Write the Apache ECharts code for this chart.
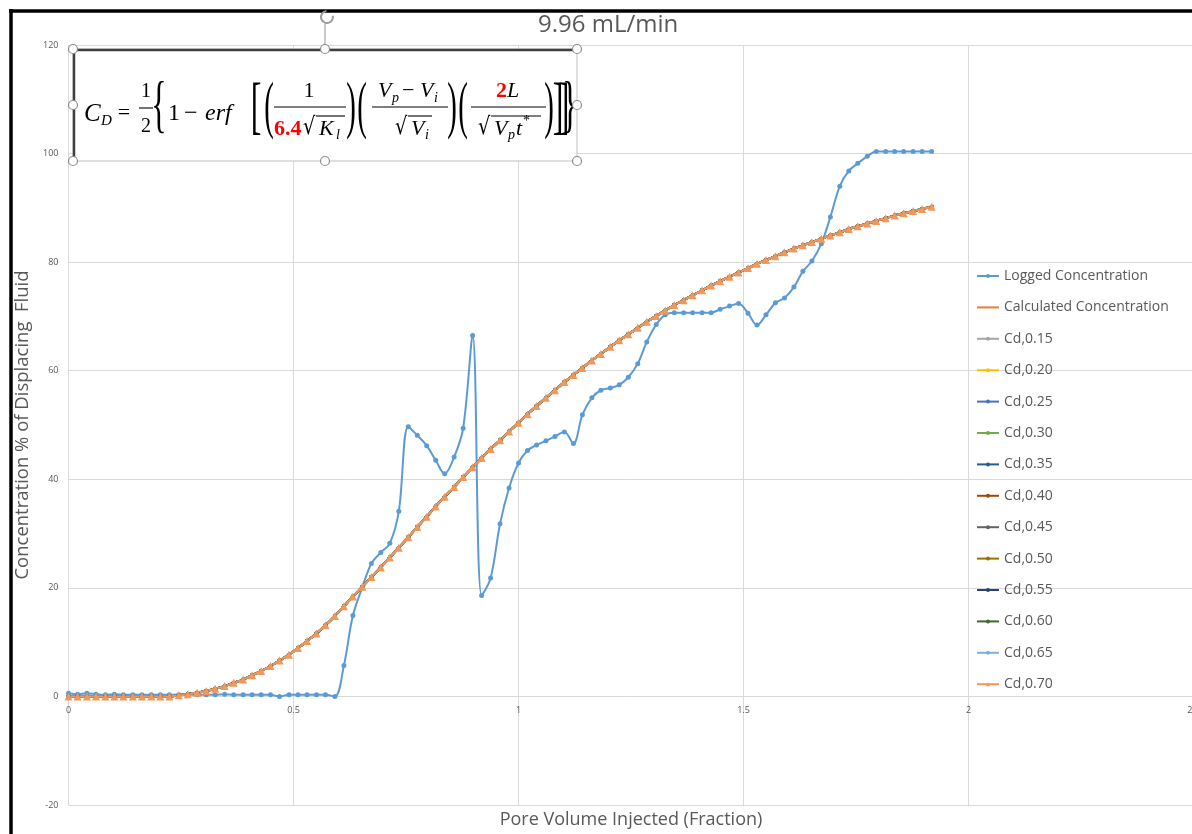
<!DOCTYPE html>
<html>
<head>
<meta charset="utf-8">
<script src="https://cdn.jsdelivr.net/npm/echarts@6/dist/echarts.min.js"></script>
<style>
html,body{margin:0;padding:0;background:#fff;}
#chart{width:1192px;height:834px;}
</style>
</head>
<body>
<div id="chart"></div>
<script>
// ---------------- DATA ----------------
const chartTitle = '9.96 mL/min';
const xAxisTitle = 'Pore Volume Injected (Fraction)';
const yAxisTitle = 'Concentration % of Displacing  Fluid';
const xTickValues = [0, 0.5, 1, 1.5, 2, 2.5];
const yTickValues = [-20, 0, 20, 40, 60, 80, 100, 120];

const pvInjected = [0.000,0.020,0.041,0.061,0.082,0.102,0.122,0.143,0.163,0.184,
  0.204,0.224,0.245,0.265,0.286,0.306,0.326,0.347,0.367,0.388,
  0.408,0.428,0.449,0.469,0.490,0.510,0.530,0.551,0.571,0.592,
  0.612,0.632,0.653,0.673,0.694,0.714,0.734,0.755,0.775,0.796,
  0.816,0.836,0.857,0.877,0.898,0.918,0.938,0.959,0.979,1.000,
  1.020,1.040,1.061,1.081,1.102,1.122,1.142,1.163,1.183,1.204,
  1.224,1.244,1.265,1.285,1.306,1.326,1.346,1.367,1.387,1.408,
  1.428,1.448,1.469,1.489,1.510,1.530,1.550,1.571,1.591,1.612,
  1.632,1.652,1.673,1.693,1.714,1.734,1.754,1.775,1.795,1.816,
  1.836,1.856,1.877,1.897,1.918];

const loggedConc = [0.6,0.4,0.6,0.4,0.3,0.4,0.3,0.3,0.3,0.3,
  0.3,0.3,0.3,0.3,0.3,0.3,0.3,0.4,0.3,0.3,
  0.3,0.3,0.3,0.0,0.3,0.3,0.3,0.3,0.3,0.0,
  5.7,14.9,20.1,24.5,26.5,28.2,34.1,49.7,48.1,46.2,
  43.5,41.0,44.1,49.4,66.5,18.6,21.8,31.8,38.4,43.0,
  45.3,46.3,47.1,47.9,48.7,46.6,51.9,55.0,56.4,56.8,
  57.4,58.8,61.3,65.3,68.5,70.3,70.7,70.7,70.7,70.7,
  70.7,71.3,71.9,72.4,70.6,68.4,70.3,72.5,73.4,75.4,
  78.3,80.2,83.4,88.3,94.0,96.8,98.2,99.5,100.4,100.4,
  100.4,100.4,100.4,100.4,100.4];

const calcConc = [0,0,0,0,0,0,0,0,0,0,
  0,0,0.2,0.4,0.7,1.0,1.4,1.9,2.5,3.1,
  3.9,4.7,5.6,6.6,7.7,8.9,10.2,11.6,13.1,14.8,
  16.6,18.4,20.2,22.0,23.8,25.6,27.4,29.3,31.2,33.1,
  35.0,36.8,38.6,40.4,42.2,43.9,45.6,47.2,48.8,50.4,
  52.0,53.5,55.0,56.4,57.9,59.2,60.5,61.9,63.1,64.4,
  65.6,66.7,67.9,69.0,70.1,71.1,72.1,73.0,73.9,74.8,
  75.7,76.5,77.3,78.1,78.9,79.7,80.4,81.1,81.8,82.5,
  83.1,83.7,84.3,84.9,85.5,86.1,86.6,87.1,87.6,88.1,
  88.6,89.0,89.4,89.8,90.2];

// Cd curves coincide with the calculated curve in the picture
const cdNames = ['Cd,0.15','Cd,0.20','Cd,0.25','Cd,0.30','Cd,0.35','Cd,0.40',
  'Cd,0.45','Cd,0.50','Cd,0.55','Cd,0.60','Cd,0.65','Cd,0.70'];
const cdConc = calcConc;

// ---------------- STYLE ----------------
const cdColors = ['#A5A5A5','#FFC000','#4472C4','#70AD47','#255E91','#9E480E',
  '#636363','#997300','#264478','#43682B','#7CAFDD','#F1975A'];
const txt = '#595959';
const gridCol = '#D9D9D9';
const uiFont = 'Open Sans';

const pairs = (ys) => pvInjected.map((x, i) => [x, ys[i]]);

const series = [
  {
    name: 'Logged Concentration', type: 'line', data: pairs(loggedConc),
    smooth: 0.35, symbol: 'circle', symbolSize: 5,
    lineStyle: {width: 2, color: '#5B9BD5'}, itemStyle: {color: '#5B9BD5'}
  },
  {
    name: 'Calculated Concentration', type: 'line', data: pairs(calcConc),
    smooth: 0.3, symbol: 'none',
    lineStyle: {width: 2.5, color: '#ED7D31'}, itemStyle: {color: '#ED7D31'}
  }
];
cdNames.forEach((n, k) => {
  const last = k === cdNames.length - 1;
  series.push({
    name: n, type: 'line', data: pairs(cdConc), smooth: 0.3,
    symbol: last ? 'triangle' : 'circle', symbolSize: last ? 8 : 4,
    lineStyle: {width: 2, color: cdColors[k]}, itemStyle: {color: cdColors[k]}
  });
});

// ---------------- EQUATION BOX (graphic) ----------------
const G = [];
const SERIF = 'Liberation Serif';
function T(x, y, text, o) {
  o = o || {};
  G.push({
    type: 'text', x: x, y: y, z: 110, scaleX: o.sx || 1, scaleY: o.sy || 1,
    style: {
      text: text, fill: o.fill || '#000',
      fontSize: o.size || 22, fontFamily: o.family || SERIF,
      fontStyle: o.italic ? 'italic' : 'normal', fontWeight: o.bold ? 'bold' : 'normal',
      align: o.align || 'left', verticalAlign: 'middle',
      textAlign: o.align || 'left', textVerticalAlign: 'middle'
    }
  });
}
function L(x1, y1, x2, y2, w, c) {
  G.push({type: 'line', z: 110, shape: {x1, y1, x2, y2}, style: {stroke: c || '#000', lineWidth: w || 1.2}});
}
// outer frame
L(9, 11, 1192, 11, 3.5, '#000');
L(11, 9, 11, 834, 3.5, '#000');
// text box
G.push({type: 'rect', z: 105, shape: {x: 73, y: 49, width: 504, height: 112},
  style: {fill: '#fff', stroke: '#BFBFBF', lineWidth: 1}});
L(73, 50, 577, 50, 2.5, '#404040');
L(74, 49, 74, 161, 2.5, '#404040');
// rotate handle
L(325, 45, 325, 24, 1.2, '#A6A6A6');
G.push({type: 'arc', z: 111, shape: {cx: 327, cy: 17, r: 6, startAngle: -0.2, endAngle: 4.6},
  style: {stroke: '#9A9A9A', lineWidth: 2, fill: 'none'}});
// handles
[[73,49],[325,49],[577,49],[73,105],[577,105],[73,161],[325,161],[577,161]].forEach(p => {
  G.push({type: 'circle', z: 112, shape: {cx: p[0], cy: p[1], r: 4.5},
    style: {fill: '#fff', stroke: '#8C8C8C', lineWidth: 1.2}});
});
// equation
T(84, 114, 'C', {italic: true, size: 25});
T(101, 121, 'D', {italic: true, size: 15});
T(124, 113, '=', {size: 22, align: 'center'});
T(146, 92, '1', {size: 20, align: 'center'});
L(139, 108, 153, 108, 1.1);
T(146, 127, '2', {size: 20, align: 'center'});
T(159, 108, '{', {size: 64, sx: 0.5, align: 'center'});
T(168, 114, '1', {size: 24});
T(184, 114, '\u2212', {size: 24});
T(205, 114, 'erf', {size: 24, italic: true});
T(256, 109, '[', {size: 64, sx: 0.5, align: 'center'});
T(269, 109, '(', {size: 64, sx: 0.45, align: 'center'});
// fraction A
T(309, 91, '1', {size: 22, align: 'center'});
L(274, 107, 346, 107, 1.2);
T(274, 129, '6.4', {size: 22, bold: true, fill: '#FF0000'});
T(303, 128, '\u221A', {size: 24, family: 'DejaVu Serif', sx: 0.8});
L(316, 116, 345, 116, 1.1);
T(319, 129, 'K', {size: 22, italic: true});
T(336, 135, 'l', {size: 14, italic: true});
T(351, 109, ')', {size: 64, sx: 0.45, align: 'center'});
T(362, 109, '(', {size: 64, sx: 0.45, align: 'center'});
// fraction B
T(378, 91, 'V', {size: 22, italic: true});
T(392, 98, 'p', {size: 14, italic: true});
T(402, 91, '\u2212', {size: 22});
T(420, 91, 'V', {size: 22, italic: true});
T(434, 98, 'i', {size: 14, italic: true});
L(372, 107, 448, 107, 1.2);
T(395, 128, '\u221A', {size: 24, family: 'DejaVu Serif', sx: 0.8});
L(408, 116, 432, 116, 1.1);
T(411, 129, 'V', {size: 22, italic: true});
T(425, 135, 'i', {size: 14, italic: true});
T(452, 109, ')', {size: 64, sx: 0.45, align: 'center'});
T(463, 109, '(', {size: 64, sx: 0.45, align: 'center'});
// fraction C
T(496, 91, '2', {size: 22, bold: true, fill: '#FF0000'});
T(507, 91, 'L', {size: 22, italic: true});
L(471, 107, 546, 107, 1.2);
T(478, 128, '\u221A', {size: 24, family: 'DejaVu Serif', sx: 0.8});
L(491, 116, 541, 116, 1.1);
T(494, 129, 'V', {size: 22, italic: true});
T(508, 135, 'p', {size: 14, italic: true});
T(516, 129, 't', {size: 22, italic: true});
T(523, 121, '*', {size: 14});
T(549, 109, ')', {size: 64, sx: 0.45, align: 'center'});
T(558, 109, ']', {size: 64, sx: 0.5, align: 'center'});
T(564, 109, ']', {size: 64, sx: 0.5, align: 'center'});
T(570, 108, '}', {size: 64, sx: 0.5, align: 'center'});

// ---------------- OPTION ----------------
const gridTop = 45, gridH = 760;
const yMin = yTickValues[0], yMax = yTickValues[yTickValues.length - 1];
// shift of the x axis from the grid bottom up to the y = 0 line
const zeroShift = gridH * (0 - yMin) / (yMax - yMin);

const legendData = series.map(s => s.name === 'Calculated Concentration'
  ? {name: s.name, itemStyle: {opacity: 0}} : {name: s.name});

const chart = echarts.init(document.getElementById('chart'));
chart.setOption({
  animation: false,
  backgroundColor: '#fff',
  title: {
    text: chartTitle, left: 533, top: 8,
    textStyle: {fontFamily: uiFont, fontSize: 24, fontWeight: 'normal', color: txt}
  },
  legend: {
    orient: 'vertical', left: 971, top: 263,
    itemWidth: 22, itemHeight: 5, itemGap: 15.4,
    textStyle: {fontFamily: uiFont, fontSize: 14, color: txt, lineHeight: 16},
    data: legendData
  },
  grid: {left: 68.5, top: gridTop, width: 1125, height: gridH, containLabel: false, outerBoundsMode: 'none'},
  xAxis: {
    type: 'value', min: xTickValues[0], max: xTickValues[xTickValues.length - 1],
    interval: xTickValues[1] - xTickValues[0],
    position: 'bottom', offset: -zeroShift,
    name: xAxisTitle, nameLocation: 'middle', nameGap: 114,
    nameTextStyle: {fontFamily: uiFont, fontSize: 18, color: txt},
    axisLine: {onZero: false, lineStyle: {color: gridCol, width: 1}},
    axisTick: {show: false},
    axisLabel: {fontFamily: uiFont, fontSize: 9, color: txt, margin: 10},
    splitLine: {lineStyle: {color: gridCol, width: 1}}
  },
  yAxis: {
    type: 'value', min: yMin, max: yMax,
    interval: yTickValues[1] - yTickValues[0],
    name: yAxisTitle, nameLocation: 'middle', nameGap: 31,
    nameTextStyle: {fontFamily: uiFont, fontSize: 18.5, color: txt},
    axisLine: {show: false}, axisTick: {show: false},
    axisLabel: {fontFamily: uiFont, fontSize: 9, color: txt, margin: 10},
    splitLine: {lineStyle: {color: gridCol, width: 1}}
  },
  graphic: {elements: G},
  series: series
});
</script>
</body>
</html>
